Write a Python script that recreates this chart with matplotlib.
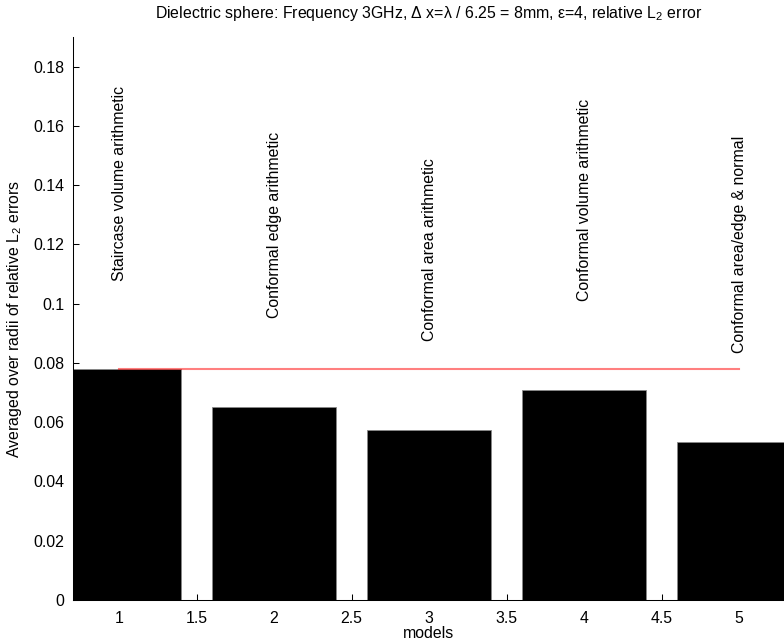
import matplotlib
matplotlib.use("Agg")
import matplotlib.pyplot as plt

models = [1, 2, 3, 4, 5]
errors = [0.0778, 0.0652, 0.0575, 0.0709, 0.0534]
labels = ["Staircase volume arithmetic",
          "Conformal edge arithmetic",
          "Conformal area arithmetic",
          "Conformal volume arithmetic",
          "Conformal area/edge & normal"]
xticks = [1, 1.5, 2, 2.5, 3, 3.5, 4, 4.5, 5]
xticklabels = ["1", "1.5", "2", "2.5", "3", "3.5", "4", "4.5", "5"]
yticks = [0, 0.02, 0.04, 0.06, 0.08, 0.1, 0.12, 0.14, 0.16, 0.18]
yticklabels = ["0", "0.02", "0.04", "0.06", "0.08", "0.1", "0.12", "0.14", "0.16", "0.18"]
label_offset = 0.03

plt.rcParams['font.family'] = ['Liberation Sans', 'DejaVu Sans']
plt.rcParams['mathtext.fontset'] = 'custom'
plt.rcParams['mathtext.rm'] = 'Liberation Sans'
plt.rcParams['mathtext.it'] = 'Liberation Sans'

FS = 11.4
fig = plt.figure(figsize=(7.84, 6.43), dpi=100)
ax = fig.add_axes([73/784, 43/643, (784-73)/784, (600-37)/643])

ax.bar(models, errors, width=0.8, color='black', edgecolor='#888888', linewidth=0.6, zorder=2)
ax.plot([models[0], models[-1]], [errors[0], errors[0]], color='red', alpha=0.5, lw=1.5, zorder=3)

for x, v, t in zip(models, errors, labels):
    ax.text(x, v + label_offset, t, rotation=90, ha='center', va='bottom', fontsize=FS)

ax.set_xlim(0.703, 5.29)
ax.set_ylim(0, 0.19)
ax.set_xticks(xticks)
ax.set_xticklabels(xticklabels, fontsize=FS)
ax.set_yticks(yticks)
ax.set_yticklabels(yticklabels, fontsize=FS)
ax.tick_params(axis='y', direction='in', length=4, width=0.75, pad=6)
ax.tick_params(axis='x', direction='in', length=4, width=0.75, pad=8)
for s in ['top', 'right']:
    ax.spines[s].set_visible(False)
for s in ['left', 'bottom']:
    ax.spines[s].set_linewidth(0.75)

ax.set_xlabel("models", fontsize=FS, labelpad=0)
ax.set_ylabel("Averaged over radii of relative L$_2$ errors", fontsize=FS, labelpad=7)
ax.set_title("Dielectric sphere: Frequency 3GHz, \u0394 x=\u03bb / 6.25 = 8mm, \u03b5=4, relative L$_2$ error",
             fontsize=FS, pad=14)

fig.savefig("out.png", dpi=100)
